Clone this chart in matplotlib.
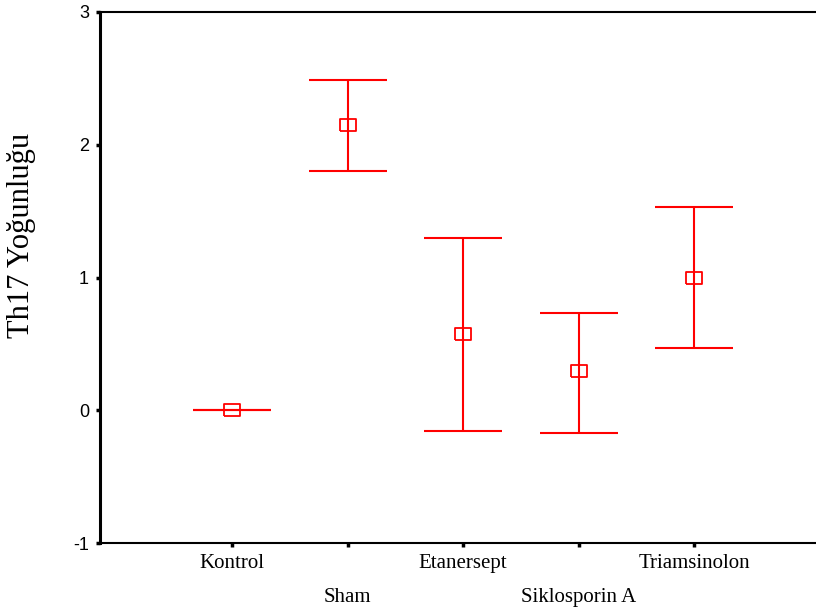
import numpy as np
from matplotlib import pyplot as plt

groups = ["Kontrol", "Sham", "Etanersept", "Siklosporin A", "Triamsinolon"]
means = [0.0, 2.15, 0.575, 0.295, 0.995]
upper = [0.0, 2.49, 1.30, 0.735, 1.53]
lower = [0.0, 1.80, -0.155, -0.17, 0.47]

fig = plt.figure(figsize=(8.16, 6.09), dpi=100)
ax = fig.add_axes([100/816, 66/609, 716/816, 531/609])

x = np.arange(1, len(groups) + 1)
m = np.array(means)
yerr = [m - np.array(lower), np.array(upper) - m]

# wide rectangle marker, like the original
rect = [(-1.45, -1), (1.45, -1), (1.45, 1), (-1.45, 1), (-1.45, -1)]
ax.errorbar(x, m, yerr=yerr, fmt='none', ecolor="red", elinewidth=1.5,
            capsize=28, capthick=1.5)
ax.plot(x, m, linestyle='none', marker=rect, markersize=11.5,
        markerfacecolor='none', markeredgecolor='red', markeredgewidth=1.3)

ax.set_xlim(-0.143, 6.056)
ax.set_ylim(-1, 3)
ax.set_yticks([-1, 0, 1, 2, 3])
ax.set_yticklabels(["-1", "0", "1", "2", "3"], family="Liberation Sans", fontsize=13)
ax.set_xticks(x)
labels = [g if i % 2 == 0 else "\n" + g for i, g in enumerate(groups)]
ax.set_xticklabels(labels, family="Liberation Serif", fontsize=15, linespacing=2.05)

ax.spines['right'].set_visible(False)
ax.spines['left'].set_linewidth(2.2)
ax.spines['bottom'].set_linewidth(1.5)
ax.spines['top'].set_linewidth(1.5)
ax.tick_params(direction='out', length=3, width=2.5, pad=5)
ax.tick_params(axis='x', pad=5)

ax.set_ylabel("Th17 Yoğunluğu", family="Liberation Serif", fontsize=22)
ax.yaxis.set_label_coords(-0.089, 0.58)

plt.savefig("out.png", dpi=100)
